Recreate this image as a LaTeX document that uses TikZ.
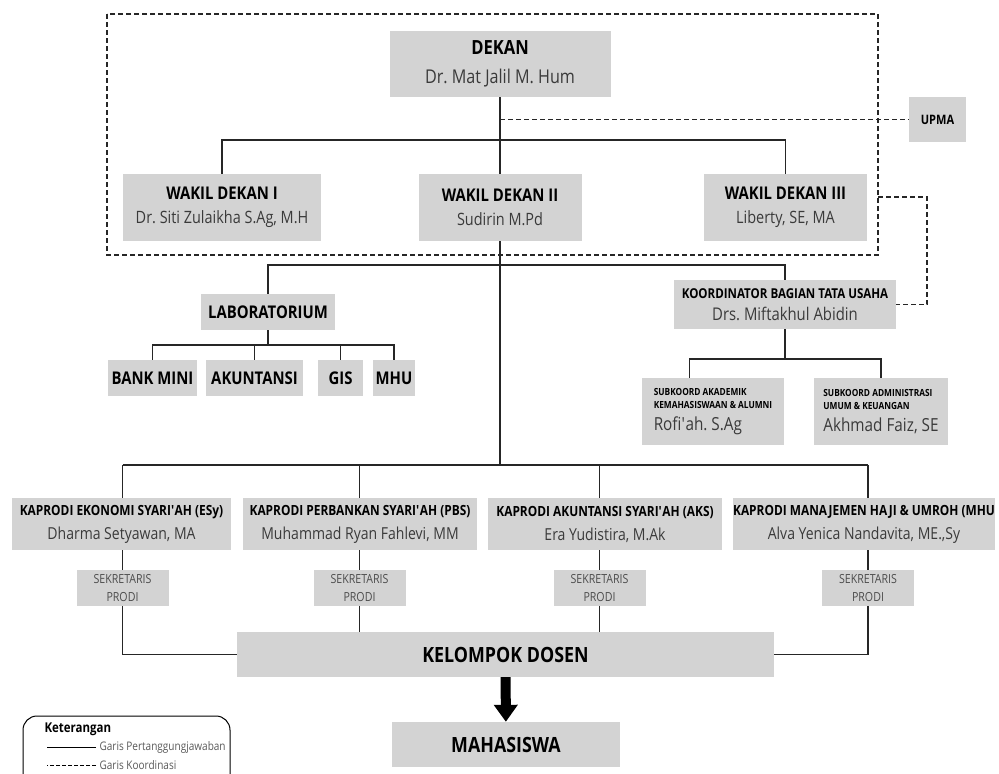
\documentclass[tikz,border=0pt]{standalone}
\usepackage{fontspec}
\setmainfont{Open Sans}[FakeStretch=0.85]
\usetikzlibrary{arrows.meta}
\definecolor{boxgray}{RGB}{211,211,211}
\definecolor{namegray}{RGB}{58,58,58}
\newcommand{\ttl}[2]{{\color{black}\bfseries\fontsize{#1}{#1}\selectfont #2}}
\newcommand{\apos}{\textquotesingle}
\frenchspacing

\begin{document}
\begin{tikzpicture}[x=1pt, y=-1pt,
    unit/.style={fill=boxgray, inner sep=0pt, align=center, text=namegray},
    tanggung/.style={draw=black!85, line width=1.8pt},
    koord/.style={draw=black!85, line width=1.8pt, dash pattern=on 5pt off 3pt},
    panah/.style={draw=black, line width=10pt, -{Triangle[width=23pt, length=17pt]}}]
  \useasboundingbox (0,0) rectangle (999,774);

  %% ── Pimpinan fakultas ────────────────────────────────────
  \node[unit, minimum width=221, minimum height=66, font=\fontsize{19}{29}\selectfont]
    (dekan) at (500,64) {\ttl{19.5}{DEKAN}\\Dr. Mat Jalil M. Hum};
  \node[unit, minimum width=198, minimum height=67, font=\fontsize{17}{24}\selectfont]
    (wd1) at (222,207.5) {\ttl{17.5}{WAKIL DEKAN I}\\Dr. Siti Zulaikha S.Ag, M.H};
  \node[unit, minimum width=163, minimum height=67, font=\fontsize{17}{24}\selectfont]
    (wd2) at (500,207.5) {\ttl{17.5}{WAKIL DEKAN II}\\Sudirin M.Pd};
  \node[unit, minimum width=163, minimum height=67, font=\fontsize{17}{24}\selectfont]
    (wd3) at (785.5,207.5) {\ttl{17.5}{WAKIL DEKAN III}\\Liberty, SE, MA};
  \node[unit, minimum width=57, minimum height=45] (upma) at (937.5,119.5) {\ttl{13}{UPMA}};

  %% ── Laboratorium dan tata usaha ──────────────────────────
  \node[unit, minimum width=134, minimum height=36] (lab) at (268,312) {\ttl{17.5}{LABORATORIUM}};
  \foreach \nm/\cx/\w/\lbl in {bank/152.5/89/BANK MINI, akun/254.5/97/AKUNTANSI,
      gis/340.5/45/GIS, mhulab/394/42/MHU}{
    \node[unit, minimum width=\w, minimum height=36] (\nm) at (\cx,378) {\ttl{17.5}{\lbl}};
  }
  \node[unit, minimum width=222, minimum height=49, font=\fontsize{17.5}{22}\selectfont]
    (ktu) at (785,304.5) {\ttl{13.6}{KOORDINATOR BAGIAN TATA USAHA}\\Drs. Miftakhul Abidin};
  \node[unit, align=left, minimum width=142, minimum height=67, font=\fontsize{18}{13}\selectfont]
    (sub1) at (713,411.5) {\ttl{9.8}{SUBKOORD AKADEMIK}\\\ttl{9.8}{KEMAHASISWAAN \& ALUMNI}\\[7pt]Rofi\apos ah. S.Ag};
  \node[unit, align=left, minimum width=134, minimum height=67, font=\fontsize{18}{13}\selectfont]
    (sub2) at (881,411.5) {\ttl{9.8}{SUBKOORD ADMINISTRASI}\\\ttl{9.8}{UMUM \& KEUANGAN}\\[7pt]Akhmad Faiz, SE};

  %% ── Program studi ────────────────────────────────────────
  \foreach \i/\cx/\w/\sx/\jab/\nama in {
      1/121.5/219/122.5/{KAPRODI EKONOMI SYARI\apos AH (ESy)}/{Dharma Setyawan, MA},
      2/360/234/359.5/{KAPRODI PERBANKAN SYARI\apos AH (PBS)}/{Muhammad Ryan Fahlevi, MM},
      3/605/234/599.5/{KAPRODI AKUNTANSI SYARI\apos AH (AKS)}/{Era Yudistira, M.Ak},
      4/864/262/868/{KAPRODI MANAJEMEN HAJI \& UMROH (MHU}/{Alva Yenica Nandavita, ME.,Sy}}{
    \node[unit, minimum width=\w, minimum height=52, font=\fontsize{16.5}{24}\selectfont]
      (kap\i) at (\cx,524) {\ttl{14}{\jab}\\\nama};
    \node[unit, minimum width=92, minimum height=36, font=\fontsize{12.5}{18}\selectfont, text=black!70]
      (sek\i) at (\sx,588) {SEKRETARIS\\PRODI};
  }
  \node[unit, minimum width=537, minimum height=45] (dosen) at (505.5,654.5) {\ttl{21}{KELOMPOK DOSEN}};
  \node[unit, minimum width=228, minimum height=45] (maha) at (506,744.5) {\ttl{21}{MAHASISWA}};

  %% ── Garis pertanggungjawaban ─────────────────────────────
  \coordinate (bus1) at (500,140);
  \coordinate (bus2) at (500,265);
  \coordinate (bus3) at (500,465);
  \draw[tanggung] (dekan) -- (wd2);
  \draw[tanggung] (bus1) -| (wd1);
  \draw[tanggung] (bus1) -| (wd3);
  \draw[tanggung] (wd2) -- (bus3);
  \draw[tanggung] (bus2) -| (lab);
  \draw[tanggung] (bus2) -| (ktu);
  \foreach \nm in {bank,akun,gis,mhulab}
    \draw[tanggung] (lab.south) -- ++(0,15) -| (\nm);
  \draw[tanggung] (ktu.south) -- ++(0,30) -| (sub1.125);
  \draw[tanggung] (ktu.south) -- ++(0,30) -| (sub2);
  \draw[tanggung] (bus3 -| sek1) -- (bus3 -| sek4);
  \foreach \i in {1,...,4}{
    \draw[tanggung] (bus3 -| sek\i) -- (kap\i.north -| sek\i);
    \draw[tanggung] (kap\i.south -| sek\i) -- (sek\i);
  }
  \draw[tanggung] (sek1) |- (dosen);
  \draw[tanggung] (sek2) -- (sek2 |- dosen.north);
  \draw[tanggung] (sek3) -- (sek3 |- dosen.north);
  \draw[tanggung] (sek4) |- (dosen);
  \draw[panah] (dosen) -- (maha);

  %% ── Garis koordinasi ─────────────────────────────────────
  \draw[koord] (107,14) rectangle (878,255);
  \coordinate (fr) at (878,197);
  \draw[koord] (dekan.south |- upma) -- (upma);
  \draw[koord] (fr) -- ++(49,0) |- (ktu);

  %% ── Keterangan ───────────────────────────────────────────
  \draw[line width=1pt, rounded corners=14pt] (23,716) rectangle (230,800);
  \node[anchor=west, font=\bfseries\fontsize{13.5}{15}\selectfont] (ket) at (41,729) {Keterangan};
  \node[anchor=west, font=\fontsize{11.8}{14}\selectfont, text=black!65] (lgA) at (96,747) {Garis Pertanggungjawaban};
  \node[anchor=west, font=\fontsize{11.8}{14}\selectfont, text=black!65] (lgB) at (96,765) {Garis Koordinasi};
  \draw[line width=1pt] (lgA.west) -- ++(-49,0);
  \draw[line width=1pt, dash pattern=on 4pt off 2pt] (lgB.west) -- ++(-49,0);
\end{tikzpicture}
\end{document}
